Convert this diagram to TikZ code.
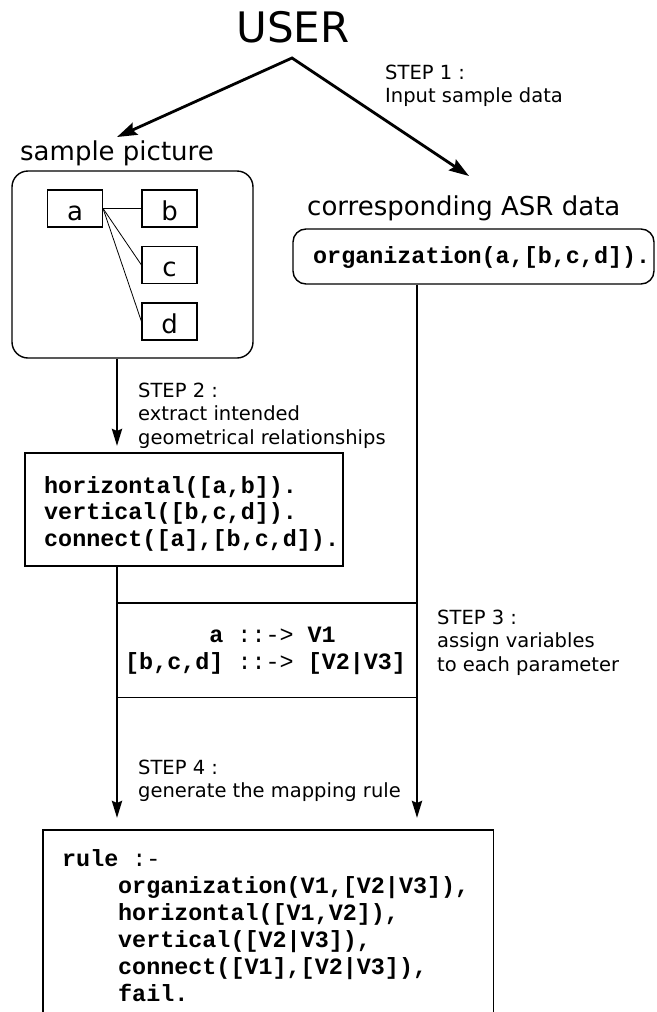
\documentclass[tikz,border=0pt]{standalone}
\usepackage{fontspec}
\setmainfont{DejaVu Sans}
\setmonofont{Liberation Mono}
\usetikzlibrary{arrows.meta}
\begin{document}
\begin{tikzpicture}[x=1pt,y=-1pt,
  flowarrow/.style={line width=2.8pt,line join=miter,-{Stealth[length=17pt,width=10pt,inset=2pt]}},
  bigtip/.style={line width=2.8pt,line join=miter,
    {Stealth[length=20pt,width=13pt,inset=3pt]}-{Stealth[length=20pt,width=13pt,inset=3pt]}},
  boxframe/.style={draw,line width=1.4pt},
  cell/.style={draw,line width=1.1pt,minimum width=55pt,minimum height=37pt,inner sep=0pt,
    text height=23pt,text depth=0pt,font=\fontsize{26}{26}\selectfont},
  tie/.style={line width=0.8pt},
  headtxt/.style={anchor=base west,inner sep=0pt,font=\fontsize{26}{26}\selectfont},
  steptxt/.style={anchor=base west,inner sep=0pt,font=\fontsize{19.5}{23.5}\selectfont},
  codetxt/.style={anchor=base west,inner sep=0pt,font={\ttfamily\bfseries\fontsize{23.4}{26.7}\selectfont}}
]
\fill[white] (0,0) rectangle (656,1012);
\useasboundingbox (0,0) rectangle (656,1012);

% the user and the two input branches
\node[font=\fontsize{42}{42}\selectfont,anchor=base,inner sep=0pt] (user) at (293,42) {USER};
\coordinate (apex) at (292,58);
\coordinate (tipL) at (117,137);
\coordinate (tipR) at (469,176);
\draw[bigtip] (tipL) -- (apex) -- (tipR);
\node[steptxt] (s1a) at (385,79) {STEP 1 :};
\node[steptxt] (s1b) at (385,102.5) {Input sample data};

% sample picture
\node[headtxt] (sptitle) at (20,160) {sample picture};
\node[boxframe,rounded corners=16pt,minimum width=241pt,minimum height=187pt] (sbox) at (132.5,264.5) {};
\node[cell] (na) at (75,208.5) {a};
\node[cell] (nb) at (169.5,208.5) {b};
\node[cell] (nc) at (169.5,265) {c};
\node[cell] (nd) at (169.5,321.5) {d};
\draw[tie] (na.east) -- (nb.west);
\draw[tie] (na.east) -- (nc.west);
\draw[tie] (na.east) -- (nd.west);

% corresponding ASR data
\node[headtxt] (asrtitle) at (307,215) {corresponding ASR data};
\node[boxframe,rounded corners=13pt,minimum width=361pt,minimum height=55pt] (asr) at (473.5,256.5) {};
\node[codetxt] (asrcode) at (313,263) {organization(a,[b,c,d]).};

% step 2: geometrical relationships
\coordinate (ltip1) at (117,446);
\draw[flowarrow] (sbox.south -| ltip1) -- (ltip1);
\node[steptxt] (s2a) at (138,397) {STEP 2 :};
\node[steptxt] (s2b) at (138,420.5) {extract intended};
\node[steptxt] (s2c) at (138,444) {geometrical relationships};
\node[boxframe,minimum width=318pt,minimum height=113pt] (hbox) at (184,509.5) {};
\node[codetxt] (h1) at (44,493) {horizontal([a,b]).};
\node[codetxt] (h2) at (44,519.7) {vertical([b,c,d]).};
\node[codetxt] (h3) at (44,546.4) {connect([a],[b,c,d]).};

% step 3: variable assignment band
\coordinate (ltip2) at (117,818);
\coordinate (rtip) at (417,818);
\draw[flowarrow] (hbox.south -| ltip2) -- (ltip2);
\draw[flowarrow] (asr.south -| rtip) -- (rtip);
\node[minimum width=300pt,minimum height=94pt,inner sep=0pt] (asg) at (267,650) {};
\draw[line width=1.4pt] (asg.north west) -- (asg.north east);
\draw[line width=1.4pt] (asg.south west) -- (asg.south east);
\node[codetxt] (v1) at (209.2,642) {a {\mdseries ::->} V1};
\node[codetxt] (v2) at (125,669) {[b,c,d] {\mdseries ::->} [V2|V3]};
\node[steptxt] (s3a) at (437,624) {STEP 3 :};
\node[steptxt] (s3b) at (437,647.5) {assign variables};
\node[steptxt] (s3c) at (437,671) {to each parameter};

% step 4: the generated rule
\node[steptxt] (s4a) at (138,774) {STEP 4 :};
\node[steptxt] (s4b) at (138,797.5) {generate the mapping rule};
\node[minimum width=450pt,minimum height=182pt,inner sep=0pt] (rbox) at (268,921) {};
\draw[line width=1.4pt] (rbox.south west) -- (rbox.north west) -- (rbox.north east) -- (rbox.south east);
\node[codetxt] (r0) at (62,866) {rule {\mdseries :-}};
\node[codetxt] (r1) at (118,893) {organization(V1,[V2|V3]),};
\node[codetxt] (r2) at (118,920) {horizontal([V1,V2]),};
\node[codetxt] (r3) at (118,947) {vertical([V2|V3]),};
\node[codetxt] (r4) at (118,974) {connect([V1],[V2|V3]),};
\node[codetxt] (r5) at (118,1001) {fail.};
\end{tikzpicture}
\end{document}
